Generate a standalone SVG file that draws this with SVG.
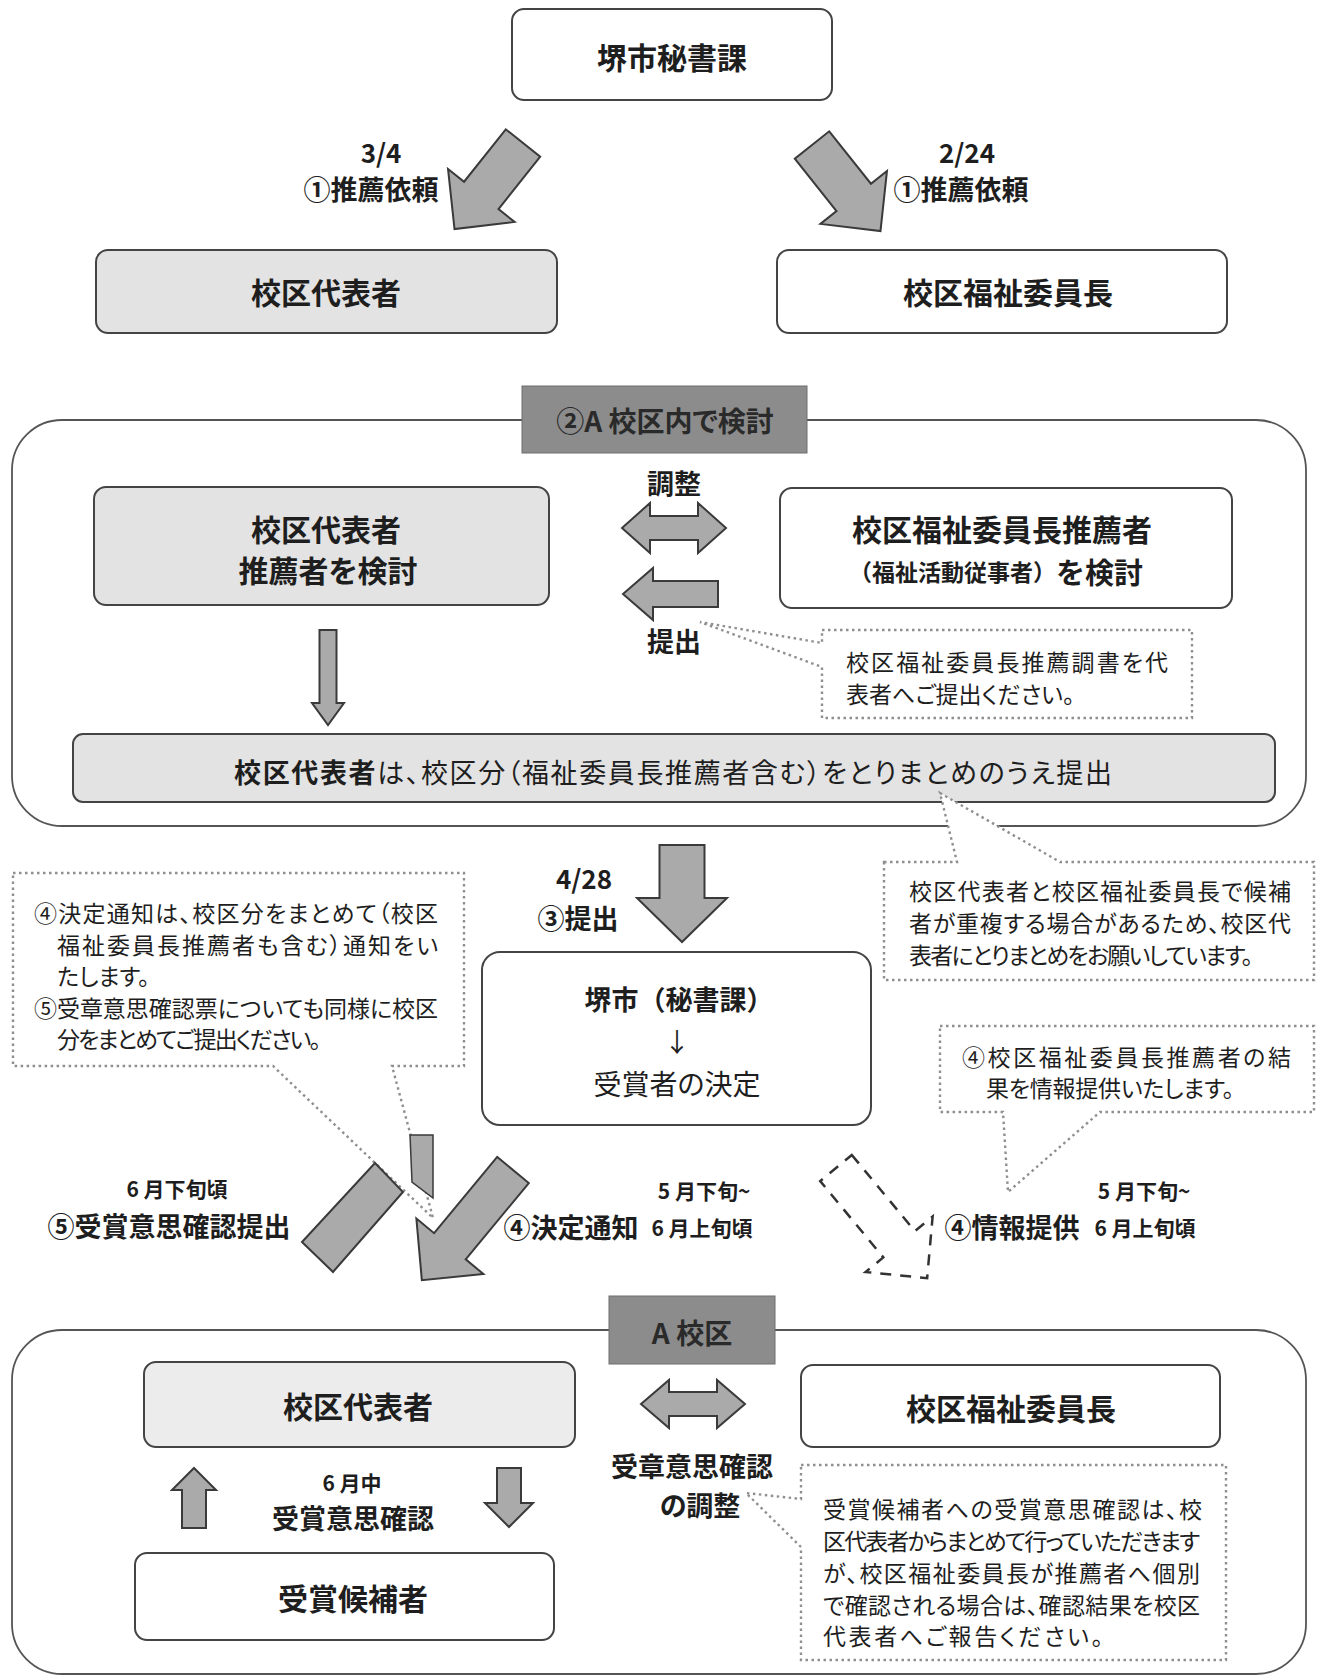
<svg xmlns="http://www.w3.org/2000/svg" width="1322" height="1680" viewBox="0 0 1322 1680">
<style>
text{font-family:"Noto Sans CJK JP","Noto Sans CJK SC",sans-serif;fill:#1e1e1e;font-feature-settings:"palt";dominant-baseline:central}
.np{font-feature-settings:normal}
.b{font-weight:700}
.c{text-anchor:middle}
.box{stroke:#444;stroke-width:2;fill:#fff}
.gray{fill:#e3e3e3}
.lgray{fill:#ececec}
.ttl{fill:#8c8c8c;stroke:#6e6e6e;stroke-width:1}
.ttl-t{fill:#2a2a2a;font-weight:700;font-size:28px}
.cont{fill:none;stroke:#555;stroke-width:1.8}
.arr{fill:#aaaaaa;stroke:#3a3a3a;stroke-width:2;stroke-linejoin:miter}
.dash{fill:none;stroke:#333;stroke-width:2.5;stroke-dasharray:11 9}
.note{fill:#fff;stroke:#8f8f8f;stroke-width:2.4;stroke-dasharray:2.5 3.5}
.n{font-size:23px}
.lbl{font-size:27px;font-weight:700}
.sm{font-size:21px;font-weight:700}
.dt{font-size:26px;font-weight:700}
.big{font-size:30px;font-weight:700}
</style>

<!-- containers -->
<g id="container-1"><rect class="cont" x="12" y="420" width="1294" height="406" rx="50"/></g>
<g id="container-2"><rect class="cont" x="12" y="1330" width="1294" height="344" rx="50"/></g>

<!-- top nodes -->
<g id="node-sakai-hisho">
<rect class="box" x="512" y="9" width="320" height="91" rx="12"/>
<text class="big c" x="672" y="56">堺市秘書課</text>
</g>
<g id="node-kouku-daihyo-1">
<rect class="box gray" x="96" y="250" width="461" height="83" rx="12"/>
<text class="big c" x="326" y="291">校区代表者</text>
</g>
<g id="node-fukushi-1">
<rect class="box" x="777" y="250" width="450" height="83" rx="12"/>
<text class="big c" x="1008" y="291">校区福祉委員長</text>
</g>

<!-- section 2 -->
<g id="title-2a">
<rect class="ttl" x="522" y="386" width="285" height="67"/>
<text class="ttl-t c" x="665" y="420">②A 校区内で検討</text>
</g>
<g id="node-kentou-daihyo">
<rect class="box gray" x="94" y="487" width="455" height="118" rx="12"/>
<text class="big c" x="326" y="528">校区代表者</text>
<text class="big c" x="328" y="569">推薦者を検討</text>
</g>
<g id="node-kentou-fukushi">
<rect class="box" x="780" y="488" width="452" height="120" rx="12"/>
<text class="big c" x="1002" y="528">校区福祉委員長推薦者</text>
<text class="b c np" x="996" y="571"><tspan font-size="23">（福祉活動従事者）</tspan><tspan font-size="29">を検討</tspan></text>
</g>
<g id="note-chousho">
<path class="note" d="M822,630 H1192 V718 H822 V667 L700,622 L822,643 Z"/>
<text class="n" x="846" y="661" textLength="322">校区福祉委員長推薦調書を代</text>
<text class="n" x="846" y="693">表者へご提出ください。</text>
</g>
<g id="node-torimatome">
<rect class="box gray" x="73" y="734" width="1202" height="68" rx="10"/>
<text x="234" y="771" font-size="27" textLength="878"><tspan class="b">校区代表者</tspan>は、校区分（福祉委員長推薦者含む）をとりまとめのうえ提出</text>
</g>
<g id="note-choufuku">
<path class="note" d="M884,862 H957 L940,793 L1060,862 H1314 V980 H884 Z"/>
<text class="n" x="909" y="890" textLength="382">校区代表者と校区福祉委員長で候補</text>
<text class="n" x="909" y="922" textLength="382">者が重複する場合があるため、校区代</text>
<text class="n" x="909" y="954" textLength="344">表者にとりまとめをお願いしています。</text>
</g>

<!-- center -->
<g id="node-sakai-kettei">
<rect class="box" x="482" y="952" width="389" height="173" rx="18"/>
<text class="c b np" x="679" y="998" font-size="27">堺市（秘書課）</text>
<text class="c" x="677" y="1040" font-size="26">↓</text>
<text class="c" x="677" y="1083" font-size="28">受賞者の決定</text>
</g>
<g id="note-kettei-tsuchi">
<path class="note" d="M13,873 H464 V1066 H392 L433,1218 L273,1066 H13 Z"/>
<text class="n" x="34" y="912" textLength="404">④決定通知は、校区分をまとめて（校区</text>
<text class="n" x="57" y="944" textLength="381">福祉委員長推薦者も含む）通知をい</text>
<text class="n" x="57" y="975">たします。</text>
<text class="n" x="34" y="1007" textLength="404">⑤受章意思確認票についても同様に校区</text>
<text class="n" x="57" y="1038" textLength="264">分をまとめてご提出ください。</text>
</g>
<g id="note-jouhou">
<path class="note" d="M940,1026 H1314 V1112 H1100 L1008,1192 L1003,1112 H940 Z"/>
<text class="n" x="962" y="1056" textLength="329">④校区福祉委員長推薦者の結</text>
<text class="n" x="986" y="1087" textLength="248">果を情報提供いたします。</text>
</g>

<!-- section A -->
<g id="title-a">
<rect class="ttl" x="609" y="1296" width="166" height="68"/>
<text class="ttl-t c" x="692" y="1332">A 校区</text>
</g>
<g id="node-kouku-daihyo-2">
<rect class="box lgray" x="144" y="1362" width="431" height="85" rx="12"/>
<text class="big c" x="358" y="1405">校区代表者</text>
</g>
<g id="node-fukushi-2">
<rect class="box" x="801" y="1365" width="419" height="82" rx="12"/>
<text class="big c" x="1011" y="1407">校区福祉委員長</text>
</g>
<g id="node-kouho">
<rect class="box" x="135" y="1553" width="419" height="87" rx="12"/>
<text class="big c" x="353" y="1597">受賞候補者</text>
</g>
<g id="note-ishi">
<path class="note" d="M801,1465 H1226 V1660 H801 V1547 L746,1493 L801,1499 Z"/>
<text class="n" x="823" y="1508" textLength="379">受賞候補者への受賞意思確認は、校</text>
<text class="n" x="823" y="1540" textLength="377">区代表者からまとめて行っていただきます</text>
<text class="n" x="823" y="1572" textLength="377">が、校区福祉委員長が推薦者へ個別</text>
<text class="n" x="823" y="1604" textLength="377">で確認される場合は、確認結果を校区</text>
<text class="n" x="823" y="1635" textLength="280">代表者へご報告ください。</text>
</g>

<!-- connectors -->
<g id="connectors">
<path class="arr" transform="translate(523,143) rotate(128.5)" d="M0,-22 L67,-22 L67,-42.5 L110,0 L67,42.5 L67,22 L0,22 Z"/>
<path class="arr" transform="translate(812,145) rotate(51.5)" d="M0,-22 L67,-22 L67,-42.5 L110,0 L67,42.5 L67,22 L0,22 Z"/>
<path class="arr" d="M622,528 L650,503 L650,516 L698,516 L698,503 L726,528 L698,553 L698,540 L650,540 L650,553 Z"/>
<path class="arr" d="M623,594 L653,568 L653,581 L718,581 L718,607 L653,607 L653,620 Z"/>
<path class="arr" d="M319.5,630 H336.5 V703 H344 L328,725 L312,703 H319.5 Z"/>
<path class="arr" d="M659.5,845 H704.5 V898 H727 L682,942 L637,898 H659.5 Z"/>
<polygon class="arr" points="410,1135 433,1135 433,1198 412,1182" style="stroke-width:1.5"/>
<polygon class="arr" points="302,1242 333,1272 403,1192 375,1163"/>
<path class="arr" transform="translate(513,1170) rotate(129.6)" d="M0,-20.5 L99,-20.5 L99,-43.5 L143,0 L99,43.5 L99,20.5 L0,20.5 Z"/>
<path class="dash" transform="translate(836,1168) rotate(50.4)" d="M0,-20.5 L99,-20.5 L99,-43.5 L143,0 L99,43.5 L99,20.5 L0,20.5 Z"/>
<path class="arr" d="M641,1404 L669,1380 L669,1392 L717,1392 L717,1380 L745,1404 L717,1428 L717,1416 L669,1416 L669,1428 Z"/>
<path class="arr" d="M194,1468 L216,1490 H206 V1528 H182 V1490 H172 Z"/>
<path class="arr" d="M497,1468 H521 V1503 H533 L509,1527 L485,1503 H497 Z"/>
</g>

<!-- connector labels -->
<g id="labels">
<text class="c dt" x="381" y="151">3/4</text>
<text class="lbl c" x="371" y="188">①推薦依頼</text>
<text class="c dt" x="967" y="151">2/24</text>
<text class="lbl c" x="961" y="188">①推薦依頼</text>
<text class="lbl c" x="674" y="482">調整</text>
<text class="lbl c" x="674" y="640">提出</text>
<text class="c dt" x="584" y="877">4/28</text>
<text class="lbl c" x="578" y="917">③提出</text>
<text class="sm c" x="177" y="1188">6 月下旬頃</text>
<text class="lbl c" x="169" y="1225">⑤受賞意思確認提出</text>
<text class="lbl c" x="571" y="1226">④決定通知</text>
<text class="sm c" x="704" y="1190">5 月下旬~</text>
<text class="sm c" x="702" y="1227">6 月上旬頃</text>
<text class="lbl c" x="1012" y="1226">④情報提供</text>
<text class="sm c" x="1144" y="1190">5 月下旬~</text>
<text class="sm c" x="1145" y="1227">6 月上旬頃</text>
<text class="sm c" x="352" y="1482">6 月中</text>
<text class="lbl c" x="353" y="1517">受賞意思確認</text>
<text class="lbl c" x="692" y="1465" font-size="26">受章意思確認</text>
<text class="lbl c" x="700" y="1504" font-size="26">の調整</text>
</g>
</svg>
